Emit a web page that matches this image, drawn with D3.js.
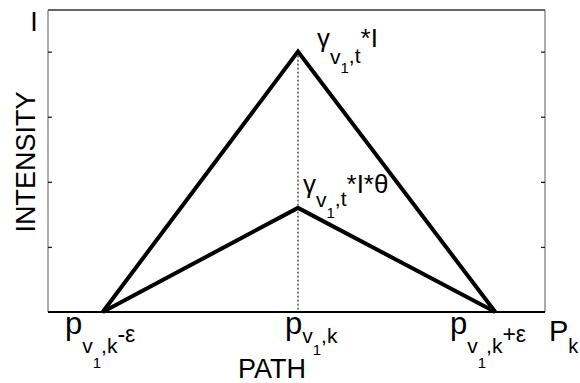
<!DOCTYPE html>
<html>
<head>
<meta charset="utf-8">
<script src="https://cdn.jsdelivr.net/npm/d3@7"></script>
<style>
  body { margin: 0; background: #fff; }
  text { font-family: "Liberation Sans", Arial, sans-serif; fill: #000; }
</style>
</head>
<body>
<svg class="intensity-chart"></svg>
<script>
const chartWidth = 580;
const chartHeight = 383;

// path positions: p-eps, p, p+eps
const pathPos = [1.1, 5.03, 9];
const fullIntensity = [0, 1, 0];
const reducedIntensity = [0, 0.4, 0];
const yTicks = [0.25, 0.5, 0.75, 1];

const margin = { top: 10, right: 35, bottom: 71, left: 48 };
const width = chartWidth - margin.left - margin.right;
const height = chartHeight - margin.top - margin.bottom;

const svg = d3
  .select('.intensity-chart')
  .attr('width', chartWidth)
  .attr('height', chartHeight);

const g = svg
  .append('g')
  .attr('transform', 'translate(' + margin.left + ',' + margin.top + ')');

const x = d3.scaleLinear().domain([0, 10]).range([0, width]);
const y = d3.scaleLinear().domain([0, 1.16]).range([height, 0]);

//Axes box: gray sides, dark top and bottom
g.append('line').attr('x1', 0).attr('x2', 0).attr('y1', 0).attr('y2', height)
  .attr('stroke', '#888').attr('stroke-width', 1.4);
g.append('line').attr('x1', width).attr('x2', width).attr('y1', 0).attr('y2', height)
  .attr('stroke', '#888').attr('stroke-width', 1.4);
g.append('line').attr('x1', 0).attr('x2', width).attr('y1', 0).attr('y2', 0)
  .attr('stroke', '#333').attr('stroke-width', 1.3);

//Inward ticks on both sides
const leftAxis = g.append('g')
  .call(d3.axisLeft(y).tickValues(yTicks).tickSize(-4).tickFormat(''));
const rightAxis = g.append('g')
  .attr('transform', 'translate(' + width + ',0)')
  .call(d3.axisRight(y).tickValues(yTicks).tickSize(-4).tickFormat(''));
[leftAxis, rightAxis].forEach(a => {
  a.select('.domain').remove();
  a.selectAll('.tick line').attr('stroke', '#222').attr('stroke-width', 1.3);
});

//Dotted line under the peak
g.append('line')
  .attr('x1', x(pathPos[1])).attr('x2', x(pathPos[1]))
  .attr('y1', y(d3.max(fullIntensity))).attr('y2', height)
  .attr('stroke', '#000').attr('stroke-width', 1)
  .attr('stroke-dasharray', '2,2');

const line = d3
  .line()
  .x(d => x(d[0]))
  .y(d => y(d[1]));

[fullIntensity, reducedIntensity].forEach(series => {
  g.append('path')
    .datum(d3.zip(pathPos, series))
    .attr('d', line)
    .attr('fill', 'none')
    .attr('stroke', '#000')
    .attr('stroke-width', 4)
    .attr('stroke-linejoin', 'miter');
});

//Bottom axis line drawn over the feet
g.append('line').attr('x1', 0).attr('x2', width).attr('y1', height).attr('y2', height)
  .attr('stroke', '#000').attr('stroke-width', 1.8);

//Text with sub/superscripts: parts are [string, font size, baseline offset]
function richText(px, py, parts) {
  const t = svg.append('text')
    .attr('x', px)
    .attr('y', py);
  let prev = 0;
  parts.forEach(([s, size, off]) => {
    t.append('tspan')
      .attr('dy', off - prev)
      .style('font-size', size + 'px')
      .text(s);
    prev = off;
  });
  return t;
}

richText(65, 334, [['p', 31, 0], ['v', 21, 19], ['1', 15, 34], [',k', 21, 19], ['-ε', 23, 8]]);
richText(285, 334, [['p', 31, 0], ['v', 21, 9], ['1', 15, 21], [',k', 21, 9]]);
richText(450, 334, [['p', 31, 0], ['v', 21, 19], ['1', 15, 34], [',k', 21, 19], ['+ε', 23, 8]]);
richText(549, 341, [['P', 29, 0], ['k', 20, 12]]);

richText(317, 47, [['γ', 26, 0], ['v', 21, 17], ['1', 15, 26], [',t', 21, 16], ['*I', 26, 0]]);
richText(303, 193, [['γ', 26, 0], ['v', 21, 14], ['1', 15, 25], [',t', 21, 13], ['*I*θ', 26, 0]]);

svg.append('text')
  .attr('x', 34).attr('y', 31)
  .attr('text-anchor', 'middle')
  .style('font-size', '27px')
  .text('I');

svg.append('text')
  .attr('x', 272).attr('y', 378)
  .attr('text-anchor', 'middle')
  .style('font-size', '27px')
  .text('PATH');

svg.append('text')
  .attr('transform', 'translate(35,162) rotate(-90)')
  .attr('text-anchor', 'middle')
  .style('font-size', '27px')
  .text('INTENSITY');
</script>
</body>
</html>
